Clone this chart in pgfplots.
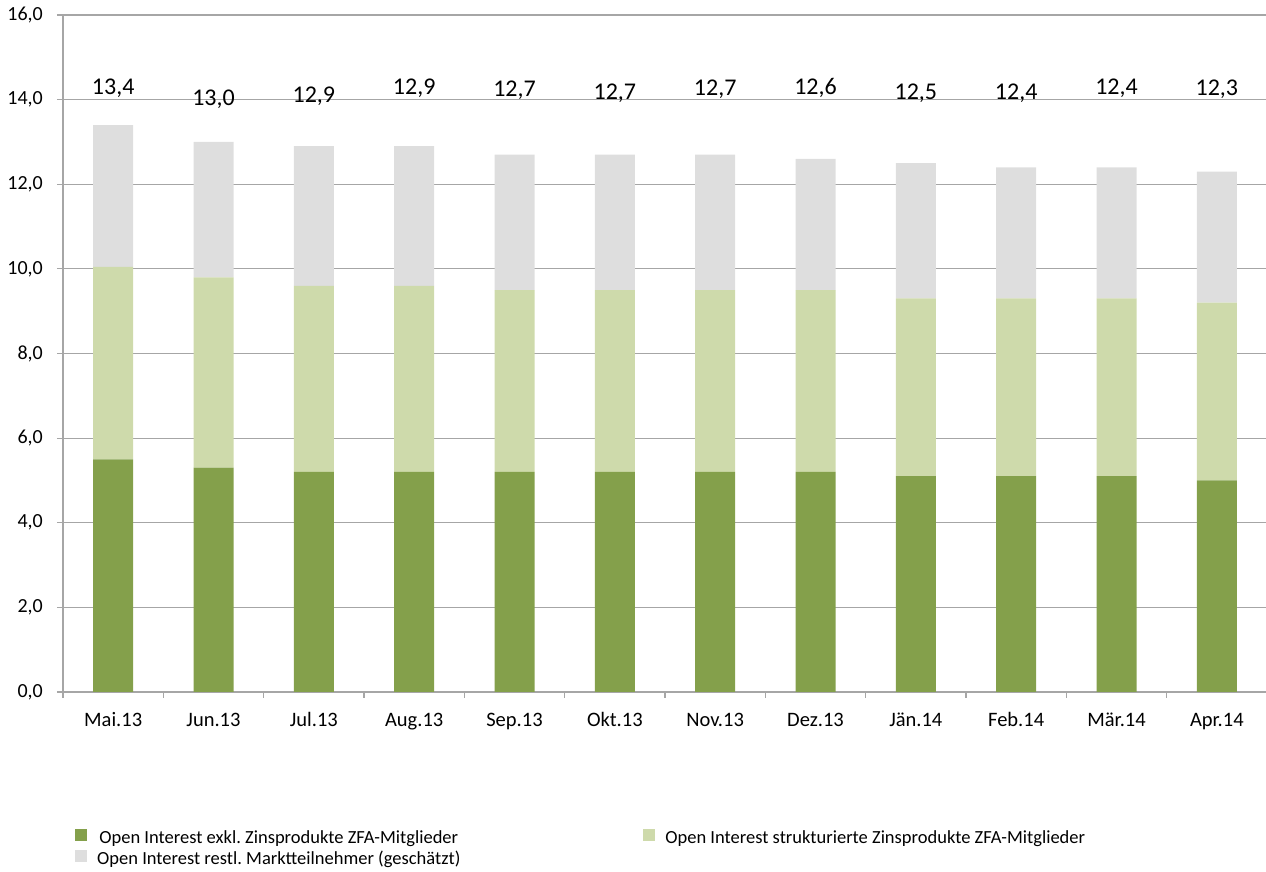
\documentclass[border=0pt]{standalone}
\usepackage{fontspec}
\setmainfont{Carlito}
\usepackage{pgfplots}
\pgfplotsset{compat=1.18}
\definecolor{dgreen}{HTML}{84A04B}
\definecolor{lgreen}{HTML}{CEDAAB}
\definecolor{lgray}{HTML}{DEDEDE}
\definecolor{gridgray}{HTML}{A6A6A6}
\tikzset{vlab/.style={font=\fontsize{24}{26}\selectfont, anchor=base, inner sep=0pt}}
\frenchspacing
\begin{document}
\begin{tikzpicture}
\useasboundingbox (0,0) rectangle (1266pt,872pt);
\begin{axis}[
  at={(63pt,180pt)}, anchor=south west,
  width=1204pt, height=677pt, scale only axis,
  ybar stacked, bar width=40pt,
  xmin=-0.5, xmax=11.5, ymin=0, ymax=16,
  axis x line=bottom, axis y line=left,
  axis line style={-, draw=gridgray, line width=1.2pt},
  ytick={0,2,...,16},
  ymajorgrids, grid style={gridgray, line width=1.2pt},
  tick align=outside,
  major tick length=6pt,
  tick style={gridgray, line width=1.2pt},
  xtick={-0.5,0.5,...,11.5},
  xticklabels={},
  extra x ticks={0,...,11},
  extra x tick labels={Mai.13,Jun.13,Jul.13,Aug.13,Sep.13,Okt.13,Nov.13,Dez.13,Jän.14,Feb.14,Mär.14,Apr.14},
  extra x tick style={major tick length=0pt, grid=none,
    xticklabel style={font=\fontsize{20.5}{22}\selectfont, inner sep=0pt, anchor=north, text height=13pt, yshift=-21pt}},
  yticklabel style={font=\fontsize{20}{22}\selectfont, inner sep=0pt, xshift=-14pt,
    /pgf/number format/fixed, /pgf/number format/fixed zerofill, /pgf/number format/precision=1,
    /pgf/number format/use comma, /pgf/number format/assume math mode=true},
  legend columns=2,
  legend style={draw=none, at={(0,0)}, anchor=north west, xshift=12pt, yshift=-136pt,
    font=\fontsize{18.5}{20}\selectfont, inner sep=0pt, row sep=2pt,
    nodes={inner xsep=0pt},
    /tikz/every odd column/.append style={column sep=10pt},
    /tikz/every even column/.append style={column sep=183pt}},
  legend image code/.code={\fill[#1] (0pt,-4pt) rectangle (12pt,8pt);},
]
\addplot[fill=dgreen, draw=none] coordinates {(0,5.5) (1,5.3) (2,5.2) (3,5.2) (4,5.2) (5,5.2) (6,5.2) (7,5.2) (8,5.1) (9,5.1) (10,5.1) (11,5.0)};
\addplot[fill=lgreen, draw=none] coordinates {(0,4.55) (1,4.5) (2,4.4) (3,4.4) (4,4.3) (5,4.3) (6,4.3) (7,4.3) (8,4.2) (9,4.2) (10,4.2) (11,4.2)};
\addplot[fill=lgray, draw=none] coordinates {(0,3.35) (1,3.2) (2,3.3) (3,3.3) (4,3.2) (5,3.2) (6,3.2) (7,3.1) (8,3.2) (9,3.1) (10,3.1) (11,3.1)};
\legend{Open Interest exkl. Zinsprodukte ZFA-Mitglieder, Open Interest strukturierte Zinsprodukte ZFA-Mitglieder, Open Interest restl. Marktteilnehmer (geschätzt)}
\node[vlab] at (axis cs:0,14.11) {13,4};
\node[vlab] at (axis cs:1,13.85) {13,0};
\node[vlab] at (axis cs:2,13.92) {12,9};
\node[vlab] at (axis cs:3,14.11) {12,9};
\node[vlab] at (axis cs:4,14.07) {12,7};
\node[vlab] at (axis cs:5,14.01) {12,7};
\node[vlab] at (axis cs:6,14.10) {12,7};
\node[vlab] at (axis cs:7,14.11) {12,6};
\node[vlab] at (axis cs:8,14.00) {12,5};
\node[vlab] at (axis cs:9,14.01) {12,4};
\node[vlab] at (axis cs:10,14.11) {12,4};
\node[vlab] at (axis cs:11,14.09) {12,3};
\end{axis}
\end{tikzpicture}
\end{document}
